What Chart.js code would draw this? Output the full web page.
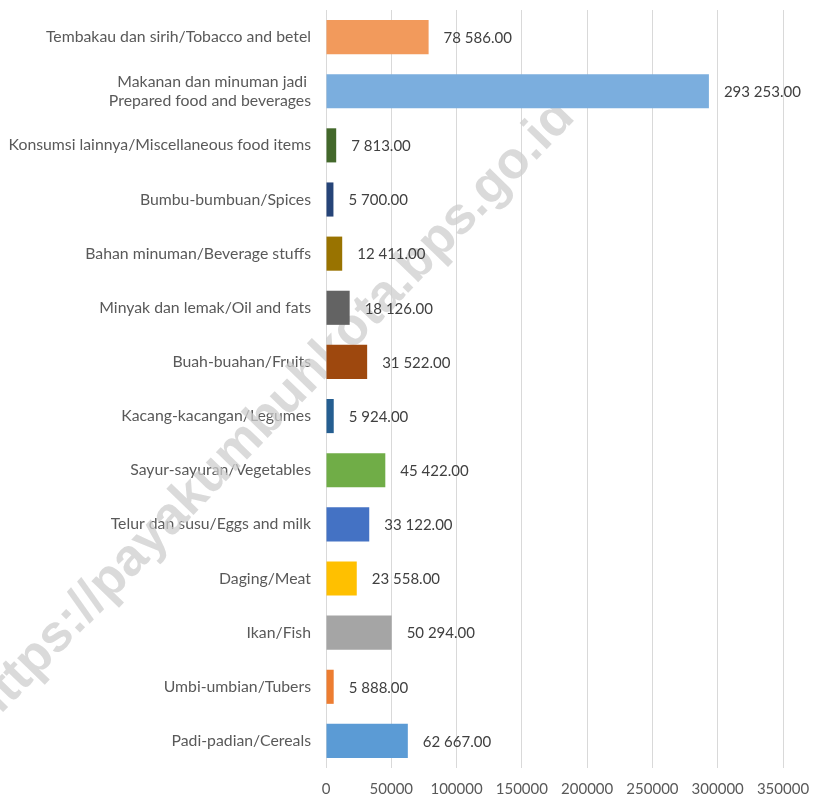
<!DOCTYPE html>
<html>
<head>
<meta charset="utf-8">
<script src="https://cdn.jsdelivr.net/npm/chart.js@4.4.1/dist/chart.umd.min.js"></script>
<style>
    html, body { margin: 0; padding: 0; background: #ffffff; }
    #wrap { width: 813px; height: 798px; position: relative; }
</style>
</head>
<body>
<div id="wrap"><canvas id="barChart"></canvas></div>
<script>
// Categories (top to bottom as in the picture)
const categories = [
    'Tembakau dan sirih/Tobacco and betel',
    ['Makanan dan minuman jadi ', 'Prepared food and beverages'],
    'Konsumsi lainnya/Miscellaneous food items',
    'Bumbu-bumbuan/Spices',
    'Bahan minuman/Beverage stuffs',
    'Minyak dan lemak/Oil and fats',
    'Buah-buahan/Fruits',
    'Kacang-kacangan/Legumes',
    'Sayur-sayuran/Vegetables',
    'Telur dan susu/Eggs and milk',
    'Daging/Meat',
    'Ikan/Fish',
    'Umbi-umbian/Tubers',
    'Padi-padian/Cereals'
];

const values = [78586, 293253, 7813, 5700, 12411, 18126, 31522, 5924, 45422, 33122, 23558, 50294, 5888, 62667];

const barColors = [
    '#F29A5C', '#7BAEDE', '#43682B', '#264478', '#997300', '#636363', '#9E480E',
    '#255E91', '#70AD47', '#4472C4', '#FFC000', '#A5A5A5', '#ED7D31', '#5B9BD5'
];

const watermarkText = 'https://payakumbuhkota.bps.go.id';

// "78 586.00" style numbers
const formatValue = (v) => {
    const parts = v.toFixed(2).split('.');
    return parts[0].replace(/\B(?=(\d{3})+(?!\d))/g, ' ') + '.' + parts[1];
};

const FONT = 'Lato, "Open Sans", sans-serif';

// Faint diagonal watermark behind the bars
const watermarkPlugin = {
    id: 'watermark',
    beforeDatasetsDraw(chart) {
        const ctx = chart.ctx;
        ctx.save();
        ctx.translate(272, 413);
        ctx.rotate(-46 * Math.PI / 180);
        ctx.font = 'bold 52px "Liberation Sans", Arial, sans-serif';
        ctx.fillStyle = 'rgba(205, 205, 205, 0.75)';
        ctx.textAlign = 'center';
        ctx.textBaseline = 'middle';
        ctx.fillText(watermarkText, 0, 0);
        ctx.restore();
    }
};

// Value labels just right of each bar
const valueLabelPlugin = {
    id: 'valueLabels',
    afterDatasetsDraw(chart) {
        const ctx = chart.ctx;
        const meta = chart.getDatasetMeta(0);
        ctx.save();
        ctx.font = '15px ' + FONT;
        ctx.fillStyle = '#404040';
        ctx.textAlign = 'left';
        ctx.textBaseline = 'middle';
        meta.data.forEach((bar, i) => {
            ctx.fillText(formatValue(values[i]), bar.x + 15, bar.y + 1);
        });
        ctx.restore();
    }
};

const ctxBar = document.getElementById('barChart').getContext('2d');

new Chart(ctxBar, {
    type: 'bar',
    data: {
        labels: categories,
        datasets: [{
            data: values,
            backgroundColor: barColors,
            borderWidth: 0,
            barPercentage: 0.63,
            categoryPercentage: 1.0
        }]
    },
    options: {
        indexAxis: 'y',
        responsive: true,
        maintainAspectRatio: false,
        animation: false,
        layout: { padding: { top: 10, right: 30, left: 0, bottom: 0 } },
        plugins: {
            legend: { display: false },
            tooltip: { enabled: false }
        },
        scales: {
            x: {
                min: 0,
                max: 350000,
                ticks: {
                    stepSize: 50000,
                    color: '#595959',
                    font: { family: FONT, size: 15 },
                    padding: 12,
                    callback: (v) => String(v)
                },
                grid: { color: '#D9D9D9', lineWidth: 1, drawTicks: false },
                border: { display: false },
                afterFit: (scale) => {
                    scale.height = 30;
                    scale.paddingLeft = 0;
                    scale.paddingRight = 0;
                }
            },
            y: {
                ticks: {
                    color: '#595959',
                    font: { family: FONT, size: 15.8 },
                    padding: 15,
                    autoSkip: false
                },
                grid: { display: false, drawTicks: false },
                border: { display: false },
                afterFit: (scale) => {
                    scale.width = 326;
                    scale.paddingTop = 0;
                    scale.paddingBottom = 0;
                }
            }
        }
    },
    plugins: [watermarkPlugin, valueLabelPlugin]
});
</script>
</body>
</html>
